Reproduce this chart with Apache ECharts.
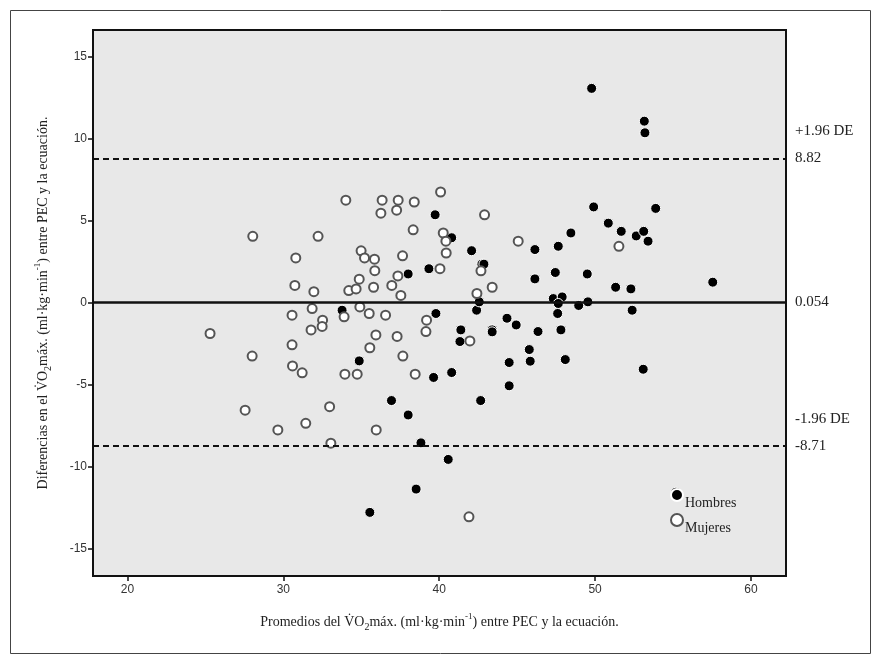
<!DOCTYPE html>
<html>
<head>
<meta charset="utf-8">
<script src="https://cdn.jsdelivr.net/npm/echarts@6/dist/echarts.min.js"></script>
<style>
html,body{margin:0;padding:0;background:#fff;}
#chart{width:876px;height:659px;}
</style>
</head>
<body>
<div id="chart"></div>
<script>
// Hombres (filled) [average, difference]
const hombresX = [39.74,40.80,42.08,38.01,39.34,33.77,39.79,42.40,41.39,41.33,34.87,39.64,40.80,36.94,38.01,38.83,42.66,42.74,42.87,46.14,47.64,48.45,49.91,50.85,51.68,52.64,53.12,53.40,53.89,46.14,47.45,49.50,51.32,52.30,57.55,42.57,47.32,47.89,47.64,48.95,49.54,52.38,47.60,44.35,44.94,43.40,43.40,46.34,47.81,45.78,45.84,44.49,48.09,53.09,44.49,40.58,38.52,35.55,49.78,53.16,53.20,55.19];
const hombresY = [5.38,3.98,3.19,1.77,2.09,-0.44,-0.64,-0.44,-1.64,-2.35,-3.53,-4.54,-4.24,-5.95,-6.83,-8.53,-5.95,2.37,2.37,3.26,3.46,4.27,5.86,4.87,4.37,4.09,4.37,3.77,5.77,1.47,1.86,1.77,0.96,0.86,1.27,0.07,0.27,0.37,-0.03,-0.15,0.07,-0.44,-0.64,-0.93,-1.34,-1.64,-1.76,-1.74,-1.64,-2.84,-3.55,-3.63,-3.45,-4.04,-5.05,-9.54,-11.35,-12.77,13.09,11.09,10.38,-11.54];
// Mujeres (open)
const mujeresX = [34.01,36.34,37.37,38.40,40.09,36.26,37.27,38.33,28.04,32.23,40.26,40.43,40.45,30.80,34.99,35.21,35.85,37.65,35.87,40.05,37.35,34.87,30.74,31.96,34.20,34.67,35.79,36.96,37.54,42.42,31.85,30.56,32.52,32.49,31.78,33.90,34.91,35.51,36.56,39.19,39.15,35.94,37.30,41.97,30.56,35.55,28.00,37.67,30.59,31.21,33.95,34.74,38.46,27.55,32.97,31.44,29.65,35.96,33.05,25.30,42.91,45.07,42.68,43.40,51.53,41.91];
const mujeresY = [6.27,6.27,6.27,6.16,6.77,5.48,5.66,4.46,4.07,4.07,4.27,3.77,3.05,2.75,3.18,2.75,2.67,2.88,1.97,2.09,1.65,1.45,1.07,0.69,0.76,0.86,0.96,1.07,0.46,0.58,-0.34,-0.74,-1.05,-1.43,-1.64,-0.84,-0.24,-0.64,-0.74,-1.05,-1.74,-1.95,-2.04,-2.31,-2.55,-2.73,-3.24,-3.24,-3.84,-4.26,-4.34,-4.34,-4.34,-6.54,-6.32,-7.34,-7.74,-7.74,-8.55,-1.86,5.38,3.77,1.96,0.96,3.46,-13.04];
// Limits of agreement
const limitValues = [8.82, 0.054, -8.71];
const limitNames = ['+1.96 DE', '', '-1.96 DE'];
const seriesNames = ['Hombres', 'Mujeres'];
const xTicks = [20, 30, 40, 50, 60];
const yTicks = [-15, -10, -5, 0, 5, 10, 15];

const serif = '"Liberation Serif", "DejaVu Serif", serif';
const narrow = '"Liberation Sans Narrow", "Liberation Sans", Arial, sans-serif';

function pairs(xs, ys){ return xs.map((x,i)=>[x, ys[i]]); }

const limitLines = limitValues.map((v,i)=>{
  const hasName = limitNames[i] !== '';
  return {
    yAxis: v,
    lineStyle: hasName ? {type:[6,4], width:2, color:'#111'} : {type:'solid', width:2.5, color:'#111'},
    label: {
      show: true, position: 'end', distance: 9,
      color:'#222', fontFamily: serif, fontSize: 15,
      padding: hasName ? [0,0,27,0] : 0,
      formatter: hasName ? ('{t|' + limitNames[i] + '}\n{v|' + v + '}') : ('{v|' + v + '}'),
      rich: {
        t: {fontFamily: serif, fontSize: 15, color:'#222', lineHeight: 27},
        v: {fontFamily: serif, fontSize: 15, color:'#222', lineHeight: 27}
      }
    }
  };
});

const chart = echarts.init(document.getElementById('chart'), null, {renderer:'canvas'});
const titleRich = {
  n: {fontFamily: serif, fontSize: 14, color:'#222', lineHeight: 20, verticalAlign:'middle'},
  sub: {fontFamily: serif, fontSize: 10, color:'#222', lineHeight: 20, verticalAlign:'bottom', padding:[6,0,0,0]},
  sup: {fontFamily: serif, fontSize: 9, color:'#222', lineHeight: 20, verticalAlign:'top', padding:[0,0,6,0]}
};
const titleText = (pre) => '{n|' + pre + ' V\u0307O}{sub|2}{n|máx. (ml·kg·min}{sup|-1}{n|) entre PEC y la ecuación.}';

chart.setOption({
  animation: false,
  backgroundColor: '#fff',
  graphic: [{
    type: 'rect', left: 8, top: 8, silent: true,
    shape: {width: 860, height: 643},
    style: {fill: 'none', stroke: '#444', lineWidth: 1}
  }],
  grid: {
    left: 93, top: 30, width: 693, height: 546,
    show: true, backgroundColor: '#e8e8e8', borderColor: '#111', borderWidth: 2,
    containLabel: false
  },
  legend: {
    orient: 'vertical', left: 670, top: 488, padding: 0, itemWidth: 12, itemHeight: 12, itemGap: 3,
    data: seriesNames,
    formatter: name => '{a|' + name + '}',
    textStyle: {
      fontFamily: serif, fontSize: 14, color:'#222',
      rich: {a: {fontFamily: serif, fontSize: 14, color:'#222', padding:[16,0,0,-3]}}
    }
  },
  xAxis: {
    type: 'value', min: 17.79, max: 62.25,
    name: titleText('Promedios del'),
    nameLocation: 'middle', nameGap: 36,
    nameTextStyle: {rich: titleRich},
    axisLine: {show: false, onZero: false},
    axisTick: {show: true, length: 5, lineStyle: {color:'#111', width: 1.5}, customValues: xTicks},
    axisLabel: {customValues: xTicks, fontFamily: narrow, fontSize: 12, color:'#333', margin: 8},
    splitLine: {show: false}
  },
  yAxis: {
    type: 'value', min: -16.65, max: 16.65,
    name: titleText('Diferencias en el'),
    nameLocation: 'middle', nameGap: 40,
    nameTextStyle: {rich: titleRich},
    axisLine: {show: false, onZero: false},
    axisTick: {show: true, length: 5, lineStyle: {color:'#111', width: 1.5}, customValues: yTicks},
    axisLabel: {customValues: yTicks, fontFamily: narrow, fontSize: 12, color:'#333', margin: 6},
    splitLine: {show: false}
  },
  series: [
    {
      name: seriesNames[0], type: 'scatter', symbol: 'circle', symbolSize: 10,
      data: pairs(hombresX, hombresY),
      itemStyle: {color: '#000', borderColor: '#fff', borderWidth: 1, opacity: 1},
      z: 3,
      markLine: {
        silent: true, symbol: ['none','none'], animation: false,
        data: limitLines
      }
    },
    {
      name: seriesNames[1], type: 'scatter', symbol: 'circle', symbolSize: 9,
      data: pairs(mujeresX, mujeresY),
      itemStyle: {color: '#fff', borderColor: '#555', borderWidth: 2, opacity: 1},
      z: 3
    }
  ]
});
</script>
</body>
</html>
